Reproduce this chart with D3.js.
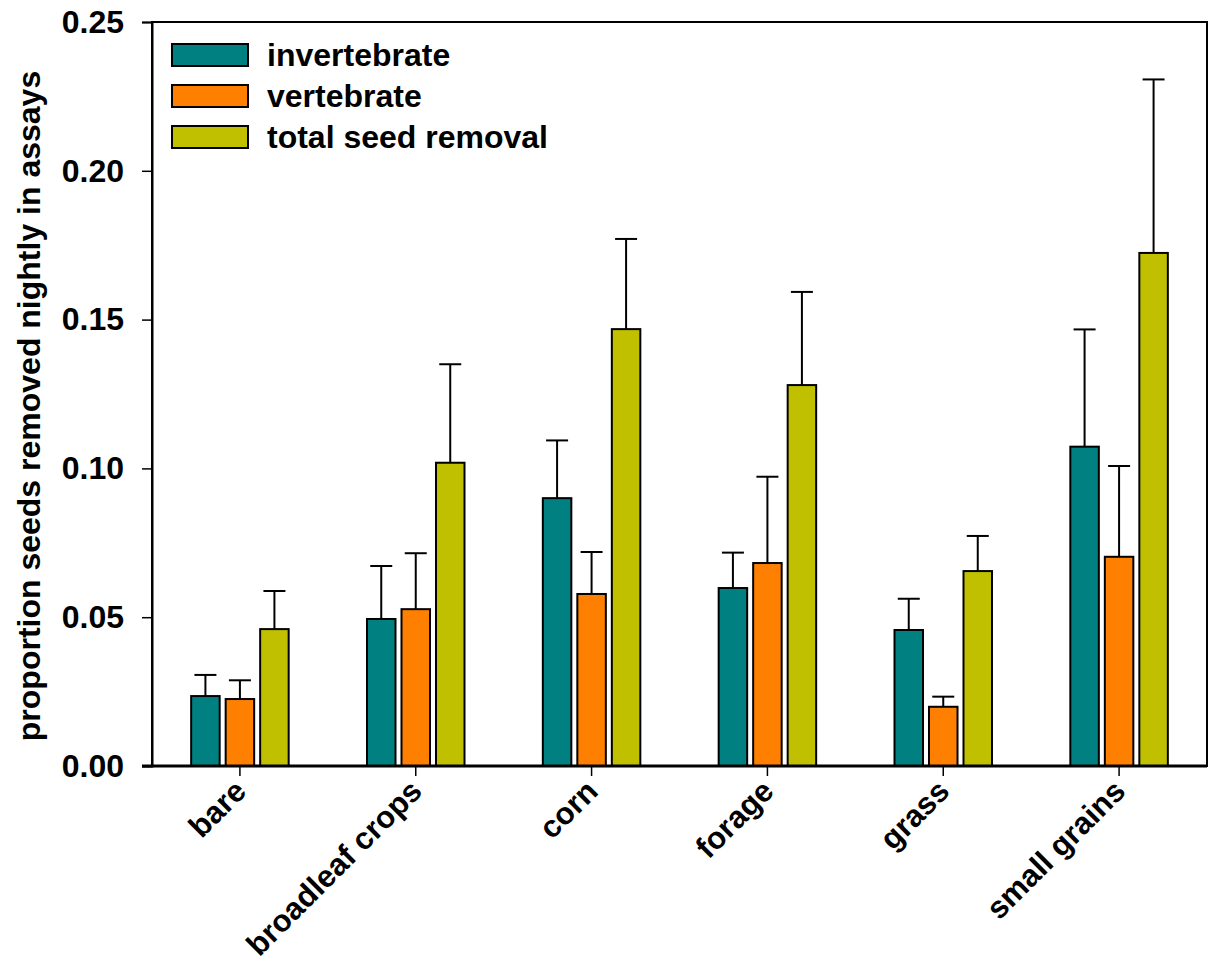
<!DOCTYPE html>
<html>
<head>
<meta charset="utf-8">
<script src="https://cdn.jsdelivr.net/npm/d3@7"></script>
<style>
  html, body { margin: 0; padding: 0; background: #fff; }
  svg { display: block; }
  text { font-family: "Liberation Sans", Arial, sans-serif; font-weight: bold; fill: #000; }
</style>
</head>
<body>
<svg id="chart" width="1214" height="966"></svg>
<script>
const categories = ["bare", "broadleaf crops", "corn", "forage", "grass", "small grains"];
const seriesNames = ["invertebrate", "vertebrate", "total seed removal"];
const seriesColors = ["#008080", "#FF8000", "#C0C000"];
const invertebrate = [0.0235, 0.0494, 0.0900, 0.0598, 0.0457, 0.1073];
const invertebrateErr = [0.0306, 0.0672, 0.1094, 0.0717, 0.0562, 0.1467];
const vertebrate = [0.0225, 0.0527, 0.0578, 0.0682, 0.0199, 0.0703];
const vertebrateErr = [0.0288, 0.0715, 0.0719, 0.0972, 0.0233, 0.1008];
const total = [0.0460, 0.1019, 0.1468, 0.1280, 0.0655, 0.1724];
const totalErr = [0.0588, 0.1350, 0.1771, 0.1593, 0.0773, 0.2307];
const yTicks = [0, 0.05, 0.10, 0.15, 0.20, 0.25];
const yTitle = "proportion seeds removed nightly in assays";

const values = [invertebrate, vertebrate, total];
const errs = [invertebrateErr, vertebrateErr, totalErr];

const W = 1214, H = 966;
const m = { left: 152, top: 22, right: 7, bottom: 200 };
const svg = d3.select("#chart");

const x0 = d3.scaleBand().domain(categories).range([m.left, W - m.right]).padding(0);
const x1 = d3.scalePoint().domain(seriesNames).range([-34.5, 34.5]);
const barW = 28.5;
const y = d3.scaleLinear().domain([0, 0.25]).range([H - m.bottom, m.top]);

// frame (top & right)
svg.append("rect")
  .attr("x", m.left).attr("y", m.top)
  .attr("width", W - m.right - m.left).attr("height", H - m.bottom - m.top)
  .attr("fill", "none").attr("stroke", "#000").attr("stroke-width", 2);

// y axis
const yAxis = d3.axisLeft(y).tickValues(yTicks).tickFormat(d3.format(".2f"))
  .tickSize(10).tickPadding(18);
const gy = svg.append("g").attr("transform", `translate(${m.left},0)`).call(yAxis);
gy.select(".domain").attr("stroke", "#000").attr("stroke-width", 2);
gy.selectAll(".tick line").attr("stroke", "#000").attr("stroke-width", 1.5);
gy.selectAll(".tick text").style("font-size", "32px").style("font-family", "'Liberation Sans', Arial, sans-serif").style("font-weight", "bold").attr("fill", "#000");

// bars
const data = [];
categories.forEach((c, i) => {
  seriesNames.forEach((s, j) => {
    data.push({ cat: c, ser: s, v: values[j][i], e: errs[j][i], color: seriesColors[j] });
  });
});

const gBars = svg.append("g");
gBars.selectAll("line.err").data(data).join("line")
  .attr("class", "err")
  .attr("x1", d => x0(d.cat) + x0.bandwidth() / 2 + x1(d.ser))
  .attr("x2", d => x0(d.cat) + x0.bandwidth() / 2 + x1(d.ser))
  .attr("y1", d => y(d.v)).attr("y2", d => y(d.e))
  .attr("stroke", "#000").attr("stroke-width", 2);
gBars.selectAll("line.cap").data(data).join("line")
  .attr("class", "cap")
  .attr("x1", d => x0(d.cat) + x0.bandwidth() / 2 + x1(d.ser) - 11)
  .attr("x2", d => x0(d.cat) + x0.bandwidth() / 2 + x1(d.ser) + 11)
  .attr("y1", d => y(d.e)).attr("y2", d => y(d.e))
  .attr("stroke", "#000").attr("stroke-width", 2);
gBars.selectAll("rect").data(data).join("rect")
  .attr("x", d => x0(d.cat) + x0.bandwidth() / 2 + x1(d.ser) - barW / 2)
  .attr("y", d => y(d.v))
  .attr("width", barW)
  .attr("height", d => y(0) - y(d.v))
  .attr("fill", d => d.color)
  .attr("stroke", "#000").attr("stroke-width", 2);

// zero baseline
svg.append("line")
  .attr("x1", m.left - 10).attr("x2", W - m.right)
  .attr("y1", y(0)).attr("y2", y(0))
  .attr("stroke", "#000").attr("stroke-width", 3);

// x axis ticks and labels
const xAxis = d3.axisBottom(x0).tickSize(10).tickSizeOuter(0).tickPadding(0);
const gx = svg.append("g").attr("transform", `translate(0,${y(0)})`).call(xAxis);
gx.select(".domain").remove();
gx.selectAll(".tick line").attr("stroke", "#000").attr("stroke-width", 1.5);
gx.selectAll(".tick text")
  .style("font-size", "31px").style("font-family", "'Liberation Sans', Arial, sans-serif").style("font-weight", "bold")
  .attr("fill", "#000")
  .attr("text-anchor", "end")
  .attr("dy", 0)
  .attr("y", 0)
  .attr("transform", "translate(8,27) rotate(-45)");

// y title
svg.append("text")
  .attr("transform", `translate(40,${(m.top + H - m.bottom) / 2 + 12}) rotate(-90)`)
  .attr("text-anchor", "middle")
  .style("font-size", "32px")
  .text(yTitle);

// legend
const legend = svg.append("g");
seriesNames.forEach((s, j) => {
  legend.append("rect")
    .attr("x", 172).attr("y", 44 + j * 41)
    .attr("width", 76).attr("height", 22)
    .attr("fill", seriesColors[j]).attr("stroke", "#000").attr("stroke-width", 2);
  legend.append("text")
    .attr("x", 267).attr("y", 66 + j * 41)
    .style("font-size", "32px")
    .text(s);
});
</script>
</body>
</html>
